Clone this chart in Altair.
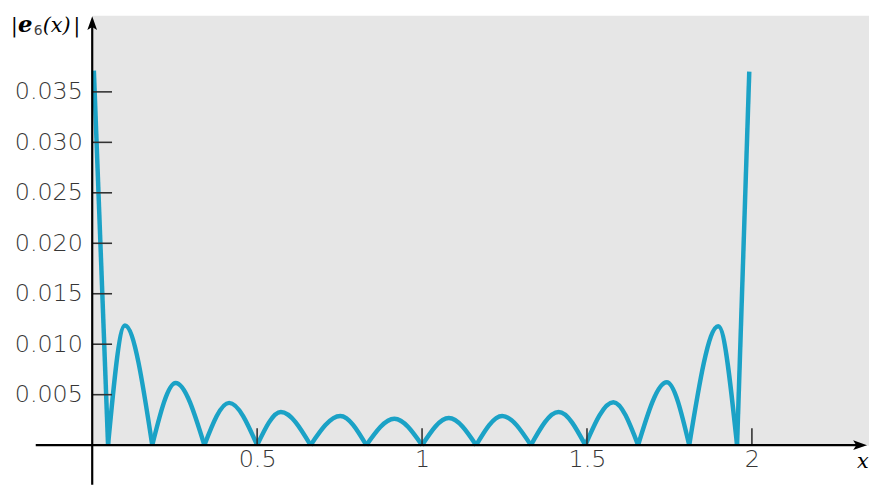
import altair as alt
import pandas as pd

# ---- data ----
zeros_x = [0.048, 0.182, 0.340, 0.500, 0.662, 0.831, 1.000, 1.164, 1.330, 1.495, 1.655, 1.810, 1.955]
peak_x = [0.099, 0.253, 0.415, 0.572, 0.752, 0.916, 1.081, 1.243, 1.414, 1.580, 1.742, 1.898]
peak_y = [0.01186, 0.00616, 0.00419, 0.00328, 0.00289, 0.00262, 0.00269, 0.00289, 0.00328, 0.00426, 0.00623, 0.01179]
start_x, start_y = 0.005, 0.0371
end_x, end_y = 1.992, 0.0370

y_ticks = [0.005, 0.010, 0.015, 0.020, 0.025, 0.030, 0.035]
x_ticks = [0.5, 1.0, 1.5, 2.0]

rows = [{"seg": 0, "x": start_x, "y": start_y}, {"seg": 0, "x": zeros_x[0], "y": 0.0}]
for i in range(len(peak_x)):
    rows.append({"seg": i + 1, "x": zeros_x[i], "y": 0.0})
    rows.append({"seg": i + 1, "x": peak_x[i], "y": peak_y[i]})
    rows.append({"seg": i + 1, "x": zeros_x[i + 1], "y": 0.0})
rows.append({"seg": 99, "x": zeros_x[-1], "y": 0.0})
rows.append({"seg": 99, "x": end_x, "y": end_y})
df = pd.DataFrame(rows)

W, H = 784, 434
xs = alt.Scale(domain=[0, 2.355], nice=False, zero=False)
ys = alt.Scale(domain=[0, 0.0426], nice=False, zero=False)

LABEL_FONT = "DejaVu Sans"
LABEL_COLOR = "#363636"

curve = alt.Chart(df).mark_line(
    interpolate="monotone", strokeWidth=4.5, color="#1ba2c6", strokeCap="butt"
).encode(
    x=alt.X("x:Q", scale=xs, title=None,
            axis=alt.Axis(values=x_ticks, format="~g", labelFont=LABEL_FONT, labelFontSize=24,
                          labelFontWeight=200, labelColor=LABEL_COLOR, labelPadding=3,
                          ticks=False, domain=False, grid=False, labelOverlap=False)),
    y=alt.Y("y:Q", scale=ys, title=None,
            axis=alt.Axis(values=y_ticks, format=".3f", labelFont=LABEL_FONT, labelFontSize=24,
                          labelFontWeight=200, labelColor=LABEL_COLOR, labelPadding=10,
                          ticks=False, domain=False, grid=False, labelOverlap=False)),
    detail="seg:N",
)

ytick_rules = alt.Chart(pd.DataFrame({"v": y_ticks})).mark_rule(
    color="#333333", strokeWidth=1.6
).encode(
    y=alt.Y("v:Q", scale=ys, title=None),
    x=alt.value(0), x2=alt.value(20),
)

xtick_rules = alt.Chart(pd.DataFrame({"v": x_ticks})).mark_rule(
    color="#333333", strokeWidth=1.6
).encode(
    x=alt.X("v:Q", scale=xs, title=None),
    y=alt.value(H - 17), y2=alt.value(H),
)

one = pd.DataFrame({"a": [0]})
x_axis_line = alt.Chart(one).mark_rule(color="black", strokeWidth=2.2).encode(
    x=alt.value(-57), x2=alt.value(776), y=alt.value(H)
)
y_axis_line = alt.Chart(one).mark_rule(color="black", strokeWidth=2.2).encode(
    x=alt.value(0), y=alt.value(6), y2=alt.value(H + 40)
)

up_arrow = "M0,-1 L0.7,1 L0,0.55 L-0.7,1 Z"
right_arrow = "M1,0 L-1,-0.7 L-0.55,0 L-1,0.7 Z"
arrow_up = alt.Chart(one).mark_point(
    shape=up_arrow, size=196, filled=True, color="black", opacity=1, strokeWidth=0
).encode(x=alt.value(0), y=alt.value(8))
arrow_right = alt.Chart(one).mark_point(
    shape=right_arrow, size=196, filled=True, color="black", opacity=1, strokeWidth=0
).encode(x=alt.value(775), y=alt.value(H))

def txt(t, x, y, font="DejaVu Serif", size=22, style="normal", weight="normal", color="black"):
    return alt.Chart(one).mark_text(
        text=t, font=font, fontSize=size, fontStyle=style, fontWeight=weight,
        color=color, align="left", baseline="alphabetic"
    ).encode(x=alt.value(x), y=alt.value(y))

title_parts = [
    txt("|", -82, 17, size=20),
    txt("e", -75, 17, size=23, style="italic", weight="bold"),
    txt("6", -59, 20, font="DejaVu Sans", size=14, color="#444444"),
    txt("(x)", -50, 17, style="italic", size=21),
    txt("|", -19, 17, size=20),
]
x_label = txt("x", 772, 457, style="italic", size=21)

chart = alt.layer(
    curve, ytick_rules, xtick_rules, x_axis_line, y_axis_line, arrow_up, arrow_right,
    *title_parts, x_label
).properties(
    width=W, height=H,
    autosize=alt.AutoSizeParams(type="none"),
    padding={"left": 85, "top": 5, "right": 0, "bottom": 39},
    background="white",
).configure_view(fill="#e6e6e6", stroke="transparent")

chart.save("out.html", embed_options={"renderer": "svg", "actions": False})
